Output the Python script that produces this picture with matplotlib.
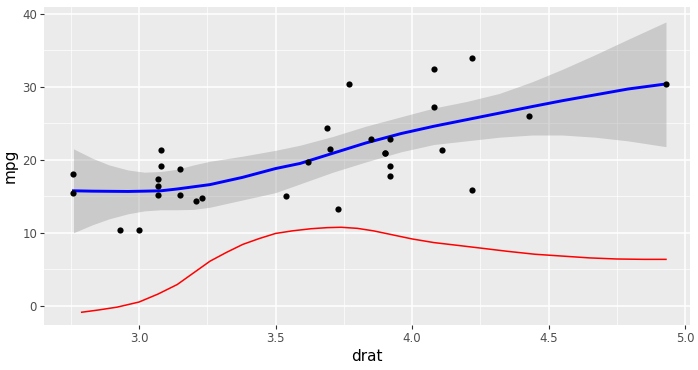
import matplotlib
matplotlib.use("Agg")
import matplotlib.pyplot as plt

# mtcars: drat / mpg
drat = [3.90, 3.90, 3.85, 3.08, 3.15, 2.76, 3.21, 3.69, 3.92, 3.92, 3.92,
        3.07, 3.07, 3.07, 2.93, 3.00, 3.23, 4.08, 4.93, 4.22, 3.70, 2.76,
        3.15, 3.73, 3.08, 4.08, 4.43, 3.77, 4.22, 3.62, 3.54, 4.11]
mpg = [21.0, 21.0, 22.8, 21.4, 18.7, 18.1, 14.3, 24.4, 22.8, 19.2, 17.8,
       16.4, 17.3, 15.2, 10.4, 10.4, 14.7, 32.4, 30.4, 33.9, 21.5, 15.5,
       15.2, 13.3, 19.2, 27.3, 26.0, 30.4, 15.8, 19.7, 15.0, 21.4]

# сглаживание и доверительная полоса (оценка по картинке)
smooth_x = [2.76, 2.83, 2.89, 2.96, 3.02, 3.08, 3.14, 3.20, 3.26, 3.38, 3.50,
            3.59, 3.71, 3.83, 3.96, 4.08, 4.20, 4.32, 4.44, 4.55, 4.67, 4.79, 4.93]
smooth_y = [15.75, 15.7, 15.68, 15.66, 15.7, 15.75, 16.0, 16.3, 16.6, 17.6, 18.8,
            19.5, 20.9, 22.3, 23.6, 24.6, 25.5, 26.4, 27.3, 28.1, 28.9, 29.7, 30.4]
smooth_lo = [10.0, 11.1, 11.9, 12.6, 13.0, 13.15, 13.15, 13.2, 13.5, 14.5, 15.5,
             16.7, 18.3, 19.7, 21.1, 22.1, 22.6, 23.1, 23.4, 23.4, 23.1, 22.6, 21.8]
smooth_hi = [21.5, 20.2, 19.3, 18.6, 18.3, 18.4, 18.7, 19.3, 19.8, 20.5, 21.3,
             22.0, 23.2, 24.6, 25.9, 27.1, 28.0, 29.1, 30.7, 32.4, 34.4, 36.5, 38.9]

# красная кривая
red_x = [2.79, 2.85, 2.92, 3.00, 3.07, 3.14, 3.20, 3.26, 3.32, 3.38, 3.44, 3.50,
         3.56, 3.63, 3.69, 3.74, 3.80, 3.86, 3.93, 4.00, 4.08, 4.16, 4.25, 4.35,
         4.45, 4.55, 4.65, 4.75, 4.85, 4.93]
red_y = [-0.9, -0.6, -0.2, 0.5, 1.6, 2.9, 4.5, 6.1, 7.3, 8.4, 9.2, 9.9,
         10.25, 10.55, 10.7, 10.75, 10.6, 10.25, 9.7, 9.15, 8.65, 8.3, 7.9, 7.45,
         7.05, 6.8, 6.55, 6.4, 6.35, 6.35]

fig = plt.figure(figsize=(6.98, 3.70), dpi=100)
ax = fig.add_axes([44 / 698, 45 / 370, 646 / 698, 318 / 370])
ax.set_facecolor('#EBEBEB')

ax.fill_between(smooth_x, smooth_lo, smooth_hi, color='#999999', alpha=0.4, lw=0, zorder=2)
ax.plot(red_x, red_y, color='red', lw=1.1, zorder=3)
ax.plot(smooth_x, smooth_y, color='blue', lw=2.1, zorder=4, solid_joinstyle='round')
ax.scatter(drat, mpg, s=20, color='black', lw=0, zorder=5)

ax.set_xlim(2.652, 5.018)
ax.set_ylim(-2.65, 40.95)
ax.set_xticks([3.0, 3.5, 4.0, 4.5, 5.0])
ax.set_xticklabels(['3.0', '3.5', '4.0', '4.5', '5.0'])
ax.set_yticks([0, 10, 20, 30, 40])
ax.set_xticks([2.75, 3.25, 3.75, 4.25, 4.75], minor=True)
ax.set_yticks([5, 15, 25, 35], minor=True)
ax.grid(which='major', color='white', lw=1.1, zorder=1)
ax.grid(which='minor', color='white', lw=0.5, zorder=1)
ax.set_axisbelow(True)
for s in ax.spines.values():
    s.set_visible(False)
ax.tick_params(which='major', length=3, width=0.8, color='#333333',
               labelcolor='#4D4D4D', labelsize=8.5, pad=2)
ax.tick_params(which='minor', length=0)
ax.set_xlabel('drat', fontsize=11, labelpad=3)
ax.set_ylabel('mpg', fontsize=11, labelpad=3)

fig.savefig('out.png', dpi=100)
